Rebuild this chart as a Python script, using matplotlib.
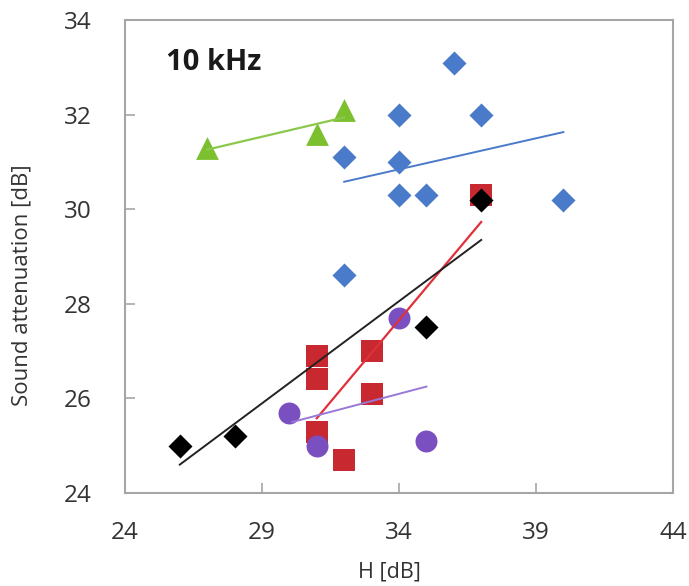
import numpy as np
import matplotlib
matplotlib.use("Agg")
import matplotlib.pyplot as plt

plt.rcParams["font.family"] = ["Open Sans", "DejaVu Sans"]

# --- data ------------------------------------------------------------------
blue_x = [36, 34, 37, 32, 34, 34, 35, 40, 32]
blue_y = [33.1, 32.0, 32.0, 31.1, 31.0, 30.3, 30.3, 30.2, 28.6]

green_x = [27, 31, 32]
green_y = [31.3, 31.6, 32.1]

red_x = [37, 31, 31, 33, 33, 31, 32]
red_y = [30.3, 26.9, 26.4, 27.0, 26.1, 25.3, 24.7]

black_x = [26, 28, 35, 37]
black_y = [25.0, 25.2, 27.5, 30.2]

purple_x = [30, 31, 34, 35]
purple_y = [25.7, 25.0, 27.7, 25.1]

# trend lines (end points)
blue_trend_x, blue_trend_y = [32, 40], [30.58, 31.63]
green_trend_x, green_trend_y = [27, 32], [31.26, 31.94]
red_trend_x, red_trend_y = [31, 37], [25.58, 29.73]
black_trend_x, black_trend_y = [26, 37], [24.60, 29.35]
purple_trend_x, purple_trend_y = [30.1, 35], [25.5, 26.25]

x_ticks = [24, 29, 34, 39, 44]
y_ticks = [24, 26, 28, 30, 32, 34]


def main():
    fig = plt.figure(figsize=(6.89, 5.86), dpi=100)
    ax = fig.add_axes([125 / 689, (586 - 493) / 586, 548 / 689, 473 / 586])

    ax.scatter(blue_x, blue_y, marker="D", s=150, color="#4a7bcb", zorder=3, linewidths=0)
    ax.scatter(green_x, green_y, marker="^", s=270, color="#7cc030", zorder=3, linewidths=0)
    ax.scatter(red_x, red_y, marker="s", s=250, color="#c8282f", zorder=3, linewidths=0)
    ax.scatter(purple_x, purple_y, marker="o", s=250, color="#7a4fc0", zorder=3, linewidths=0)
    ax.scatter(black_x, black_y, marker="D", s=150, color="#000000", zorder=3, linewidths=0)

    ax.plot(blue_trend_x, blue_trend_y, color="#4a7bcb", lw=1.4, zorder=4)
    ax.plot(green_trend_x, green_trend_y, color="#8cc84b", lw=1.6, zorder=4)
    ax.plot(red_trend_x, red_trend_y, color="#e0303a", lw=1.6, zorder=4)
    ax.plot(black_trend_x, black_trend_y, color="#222222", lw=1.4, zorder=4)
    ax.plot(purple_trend_x, purple_trend_y, color="#9a78d8", lw=1.4, zorder=4)

    ax.set_xlim(24, 44)
    ax.set_ylim(24, 34)
    ax.set_xticks(x_ticks)
    ax.set_yticks(y_ticks)
    ax.tick_params(axis="both", direction="in", length=7, width=1.2,
                   color="#a6a6a6", labelsize=17.5, labelcolor="#333333")
    ax.tick_params(axis="y", pad=24)
    ax.tick_params(axis="x", pad=20)
    for sp in ax.spines.values():
        sp.set_color("#a6a6a6")
        sp.set_linewidth(1.5)

    ax.set_xlabel("H [dB]", fontsize=15.5, color="#333333")
    ax.set_ylabel("Sound attenuation [dB]", fontsize=16, color="#333333")
    ax.xaxis.set_label_coords(0.482, -0.145)
    ax.yaxis.set_label_coords(-0.168, 0.44)

    ax.text(25.5, 33.1, "10 kHz", fontsize=21, fontweight="bold", color="#1a1a1a",
            ha="left", va="center")

    fig.savefig("out.png", dpi=100)
    plt.close(fig)


if __name__ == "__main__":
    main()
